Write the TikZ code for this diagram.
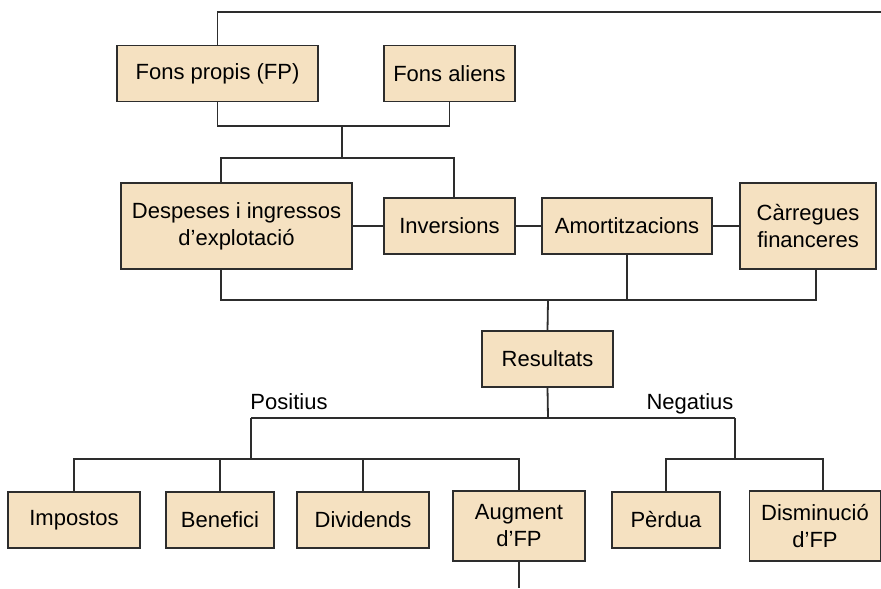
\documentclass[tikz,border=0pt]{standalone}
\usepackage{fontspec}
\setmainfont{Liberation Sans}
\definecolor{boxfill}{RGB}{245,225,193}
\definecolor{boxline}{RGB}{45,45,45}
\tikzset{
  box/.style={draw=boxline,fill=boxfill,line width=0.9pt,inner sep=0pt,
    align=center,minimum height=28pt},
  tall/.style={minimum height=43pt},
  link/.style={line width=0.9pt,draw=boxline}
}
\begin{document}
\begin{tikzpicture}[x=0.5pt,y=-0.5pt,font=\fontsize{11pt}{13.5pt}\selectfont]
\useasboundingbox (0,0) rectangle (881,588);
% first row
\node[box,minimum width=100.5pt] (fp) at (217.5,73.5) {Fons propis (FP)};
\node[box,minimum width=65.5pt] (fa) at (449.5,73.5) {Fons aliens};
% second row
\node[box,tall,minimum width=115.5pt] (desp) at (236.5,226) {Despeses i ingressos\\d’explotació};
\node[box,minimum width=65.5pt] (inv) at (449.5,226) {Inversions};
\node[box,minimum width=85pt] (amort) at (627,226) {Amortitzacions};
\node[box,tall,minimum width=68pt] (carr) at (808,226) {Càrregues\\financeres};
% result
\node[box,minimum width=65.5pt] (res) at (547.5,359) {Resultats};
\node[anchor=base] (pos) at (289,409) {Positius};
\node[anchor=base] (neg) at (690,409) {Negatius};
% bottom row
\foreach \name/\x/\w/\txt in {imp/74/66/Impostos,ben/220/54/Benefici,div/363/66/Dividends,per/666/54/Pèrdua} {
  \node[box,minimum width=\w pt] (\name) at (\x,520) {\txt};
}
\node[box,minimum width=66pt,minimum height=35pt] (aug) at (519,526) {Augment\\d’FP};
\node[box,minimum width=65.5pt,minimum height=35pt] (dis) at (815,526) {Disminució\\d’FP};
% junctions
\coordinate (topend) at (881,12);
\coordinate (j1) at (342,126);
\coordinate (j2) at (342,158);
\coordinate (j3) at (548,300);
\coordinate (j4) at (548,418);
\coordinate (posa) at (251,418);
\coordinate (nega) at (735,418);
\coordinate (posb) at (251,459);
\coordinate (negb) at (735,459);
\coordinate (augend) at (519,588);
% connectors
\draw[link] (fp.north) |- (topend);
\draw[link] (fp.south) |- (j1) -| (fa.south);
\draw[link] (j1) -- (j2);
\draw[link] ([xshift=-7.75pt]desp.north) |- (j2) -| ([xshift=2.25pt]inv.north);
\draw[link] (desp.east) -- (inv.west);
\draw[link] (inv.east) -- (amort.west);
\draw[link] (amort.east) -- (carr.west);
\draw[link] ([xshift=-7.75pt]desp.south) |- (j3) -| ([xshift=4pt]carr.south);
\draw[link] (amort.south) -- (amort.south |- j3);
\draw[link] (j3) -- (res.north);
\draw[link] (res.south) -- (j4);
\draw[link] (posa) -- (nega);
\draw[link] (posa) -- (posb);
\draw[link] (nega) -- (negb);
\draw[link] (imp.north) |- (posb) -| (aug.north);
\draw[link] (ben.north) -- (ben.north |- posb);
\draw[link] (div.north) -- (div.north |- posb);
\draw[link] (per.north) |- (negb) -| ([xshift=4pt]dis.north);
\draw[link] (aug.south) -- (augend);
\end{tikzpicture}
\end{document}
